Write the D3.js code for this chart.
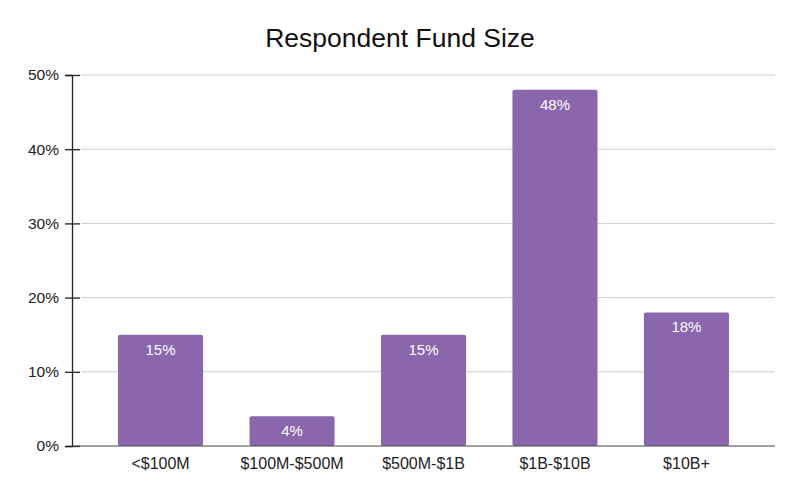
<!DOCTYPE html>
<html>
<head>
<meta charset="utf-8">
<script src="https://cdn.jsdelivr.net/npm/d3@7"></script>
<style>
  body { margin: 0; background: #fff; }
  text { font-family: "Liberation Sans", Arial, sans-serif; }
</style>
</head>
<body>
<div id="chart"></div>
<script>
const categories = ["<$100M", "$100M-$500M", "$500M-$1B", "$1B-$10B", "$10B+"];
const shares = [15, 4, 15, 48, 18];
const yTicks = [0, 10, 20, 30, 40, 50];

const width = 800, height = 495;
const margin = { top: 75, right: 25, bottom: 49, left: 72 };

const svg = d3.select("#chart")
    .append("svg")
    .attr("width", width)
    .attr("height", height);

const x = d3.scaleBand()
    .domain(categories)
    .range([margin.left, width - margin.right])
    .paddingInner(0.353)
    .paddingOuter(0.35);

const y = d3.scaleLinear()
    .domain([0, 50])
    .range([height - margin.bottom, margin.top]);

// title
svg.append("text")
    .attr("x", 400)
    .attr("y", 47)
    .attr("text-anchor", "middle")
    .attr("font-size", "26.5px")
    .attr("fill", "#111")
    .text("Respondent Fund Size");

// gridlines
svg.append("g")
    .selectAll("line")
    .data(yTicks.slice(1))
    .join("line")
    .attr("x1", margin.left + 9)
    .attr("x2", width - margin.right)
    .attr("y1", d => y(d))
    .attr("y2", d => y(d))
    .attr("stroke", "#cfcfcf")
    .attr("stroke-width", 1);

// bars
svg.append("g")
    .selectAll("rect")
    .data(shares)
    .join("rect")
    .attr("x", (d, i) => x(categories[i]))
    .attr("y", d => y(d))
    .attr("width", x.bandwidth())
    .attr("height", d => y(0) - y(d))
    .attr("rx", 2)
    .attr("fill", "#8a66ac");

// bar labels
svg.append("g")
    .selectAll("text")
    .data(shares)
    .join("text")
    .attr("x", (d, i) => x(categories[i]) + x.bandwidth() / 2)
    .attr("y", d => y(d) + 20)
    .attr("text-anchor", "middle")
    .attr("font-size", "15px")
    .attr("fill", "#fff")
    .text(d => d + "%");

// y axis
const yAxis = d3.axisLeft(y)
    .tickValues(yTicks)
    .tickFormat(d => d + "%")
    .tickSize(7)
    .tickPadding(6);

const gy = svg.append("g")
    .attr("transform", `translate(${margin.left},0)`)
    .call(yAxis);
gy.select(".domain").attr("stroke", "#222").attr("stroke-width", 1.3);
gy.selectAll(".tick line").clone()
    .attr("x2", 8);
gy.selectAll(".tick line").attr("stroke", "#222").attr("stroke-width", 1.3);
gy.selectAll(".tick text")
    .attr("font-size", "15.5px")
    .attr("fill", "#222")
    .attr("font-family", "Liberation Sans, Arial, sans-serif");

// x axis
const xAxis = d3.axisBottom(x).tickSize(0).tickPadding(12);
const gx = svg.append("g")
    .attr("transform", `translate(0,${y(0)})`)
    .call(xAxis);
gx.select(".domain")
    .attr("d", `M${margin.left},0H${width - margin.right}`)
    .attr("stroke", "#444")
    .attr("stroke-width", 1.2);
gx.selectAll(".tick text")
    .attr("font-size", "16px")
    .attr("fill", "#222")
    .attr("font-family", "Liberation Sans, Arial, sans-serif");
</script>
</body>
</html>
